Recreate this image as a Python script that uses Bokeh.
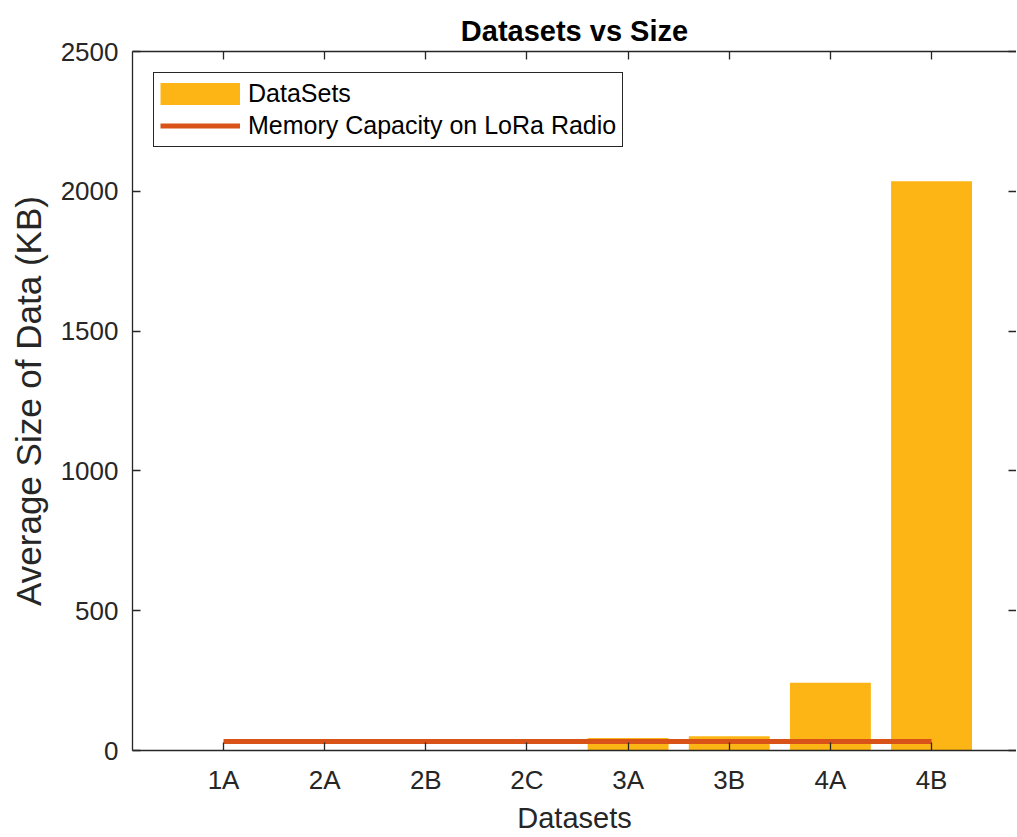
from bokeh.plotting import figure
from bokeh.models import Range1d, FixedTicker, LinearAxis, Legend, LegendItem
from bokeh.embed import file_html
from bokeh.resources import INLINE

# ---- data ----
categories = ["1A", "2A", "2B", "2C", "3A", "3B", "4A", "4B"]
avg_size_kb = [1, 1, 1, 1, 45, 51, 242, 2036]
memory_capacity_kb = [32, 32, 32, 32, 32, 32, 32, 32]
y_ticks = [0, 500, 1000, 1500, 2000, 2500]

xs = list(range(1, len(categories) + 1))

BAR = "#FDB515"
LINE = "#D95319"
AX = "#262626"
FONT = "Liberation Sans"

p = figure(width=1016, height=836, output_backend="svg", toolbar_location=None,
           x_range=Range1d(0.1, 8.84), y_range=Range1d(0, 2500),
           min_border_left=132, min_border_top=51, min_border_right=0,
           min_border_bottom=84, background_fill_color="white",
           border_fill_color="white")
p.outline_line_color = None
p.grid.visible = False

bars = p.vbar(x=xs, top=avg_size_kb, width=0.8, fill_color=BAR, line_color=None)
mem = p.line(x=xs, y=memory_capacity_kb, line_width=5, line_color=LINE)
# legend swatch for the bars (a thick line so it fills the swatch box; nothing drawn in plot)
nan = float("nan")
swatch = p.line(x=[nan], y=[nan], line_width=22, line_color=BAR, line_cap="butt")

# title
p.title.text = "Datasets vs Size"
p.title.align = "center"
p.title.text_font = FONT
p.title.text_font_size = "29px"
p.title.text_font_style = "bold"
p.title.text_color = "black"

def style_axis(ax, labels=True):
    ax.axis_line_color = AX
    ax.axis_line_width = 1.3
    ax.major_tick_line_color = AX
    ax.major_tick_line_width = 1.3
    ax.major_tick_in = 8
    ax.major_tick_out = 0
    ax.minor_tick_line_color = None
    ax.major_label_text_font = FONT
    ax.major_label_text_color = AX
    if not labels:
        ax.major_label_text_font_size = "0px"
        ax.major_label_standoff = 0

# bottom x axis
xa = p.xaxis[0]
xa.ticker = FixedTicker(ticks=xs)
xa.major_label_overrides = {x: c for x, c in zip(xs, categories)}
style_axis(xa)
xa.major_label_text_font_size = "26px"
xa.major_label_standoff = 14
xa.axis_label = "Datasets"
xa.axis_label_text_font = FONT
xa.axis_label_text_font_size = "29px"
xa.axis_label_text_font_style = "normal"
xa.axis_label_text_color = AX
xa.axis_label_standoff = 4

# left y axis
ya = p.yaxis[0]
ya.ticker = FixedTicker(ticks=y_ticks)
style_axis(ya)
ya.major_label_text_font_size = "26px"
ya.major_label_standoff = 14
ya.axis_label = "Average Size of Data (KB)"
ya.axis_label_text_font = FONT
ya.axis_label_text_font_size = "35px"
ya.axis_label_text_font_style = "normal"
ya.axis_label_text_color = AX
ya.axis_label_standoff = 10

# top and right box axes (ticks only)
top = LinearAxis(ticker=FixedTicker(ticks=xs))
style_axis(top, labels=False)
p.add_layout(top, "above")
right = LinearAxis(ticker=FixedTicker(ticks=y_ticks))
style_axis(right, labels=False)
right.axis_line_color = None
p.add_layout(right, "right")

# legend
lg = Legend(items=[LegendItem(label="DataSets", renderers=[swatch]),
                   LegendItem(label="Memory Capacity on LoRa Radio", renderers=[mem])])
lg.location = "top_left"
lg.margin = 21
lg.padding = 6
lg.spacing = 3
lg.label_text_font = FONT
lg.label_text_font_size = "25px"
lg.label_text_color = "black"
lg.label_height = 25
lg.glyph_height = 25
lg.glyph_width = 80
lg.label_standoff = 8
lg.border_line_color = AX
lg.border_line_width = 1
lg.border_line_alpha = 1
lg.background_fill_color = "white"
lg.background_fill_alpha = 1
p.add_layout(lg, "center")

open("out.html", "w").write(file_html(p, INLINE))
